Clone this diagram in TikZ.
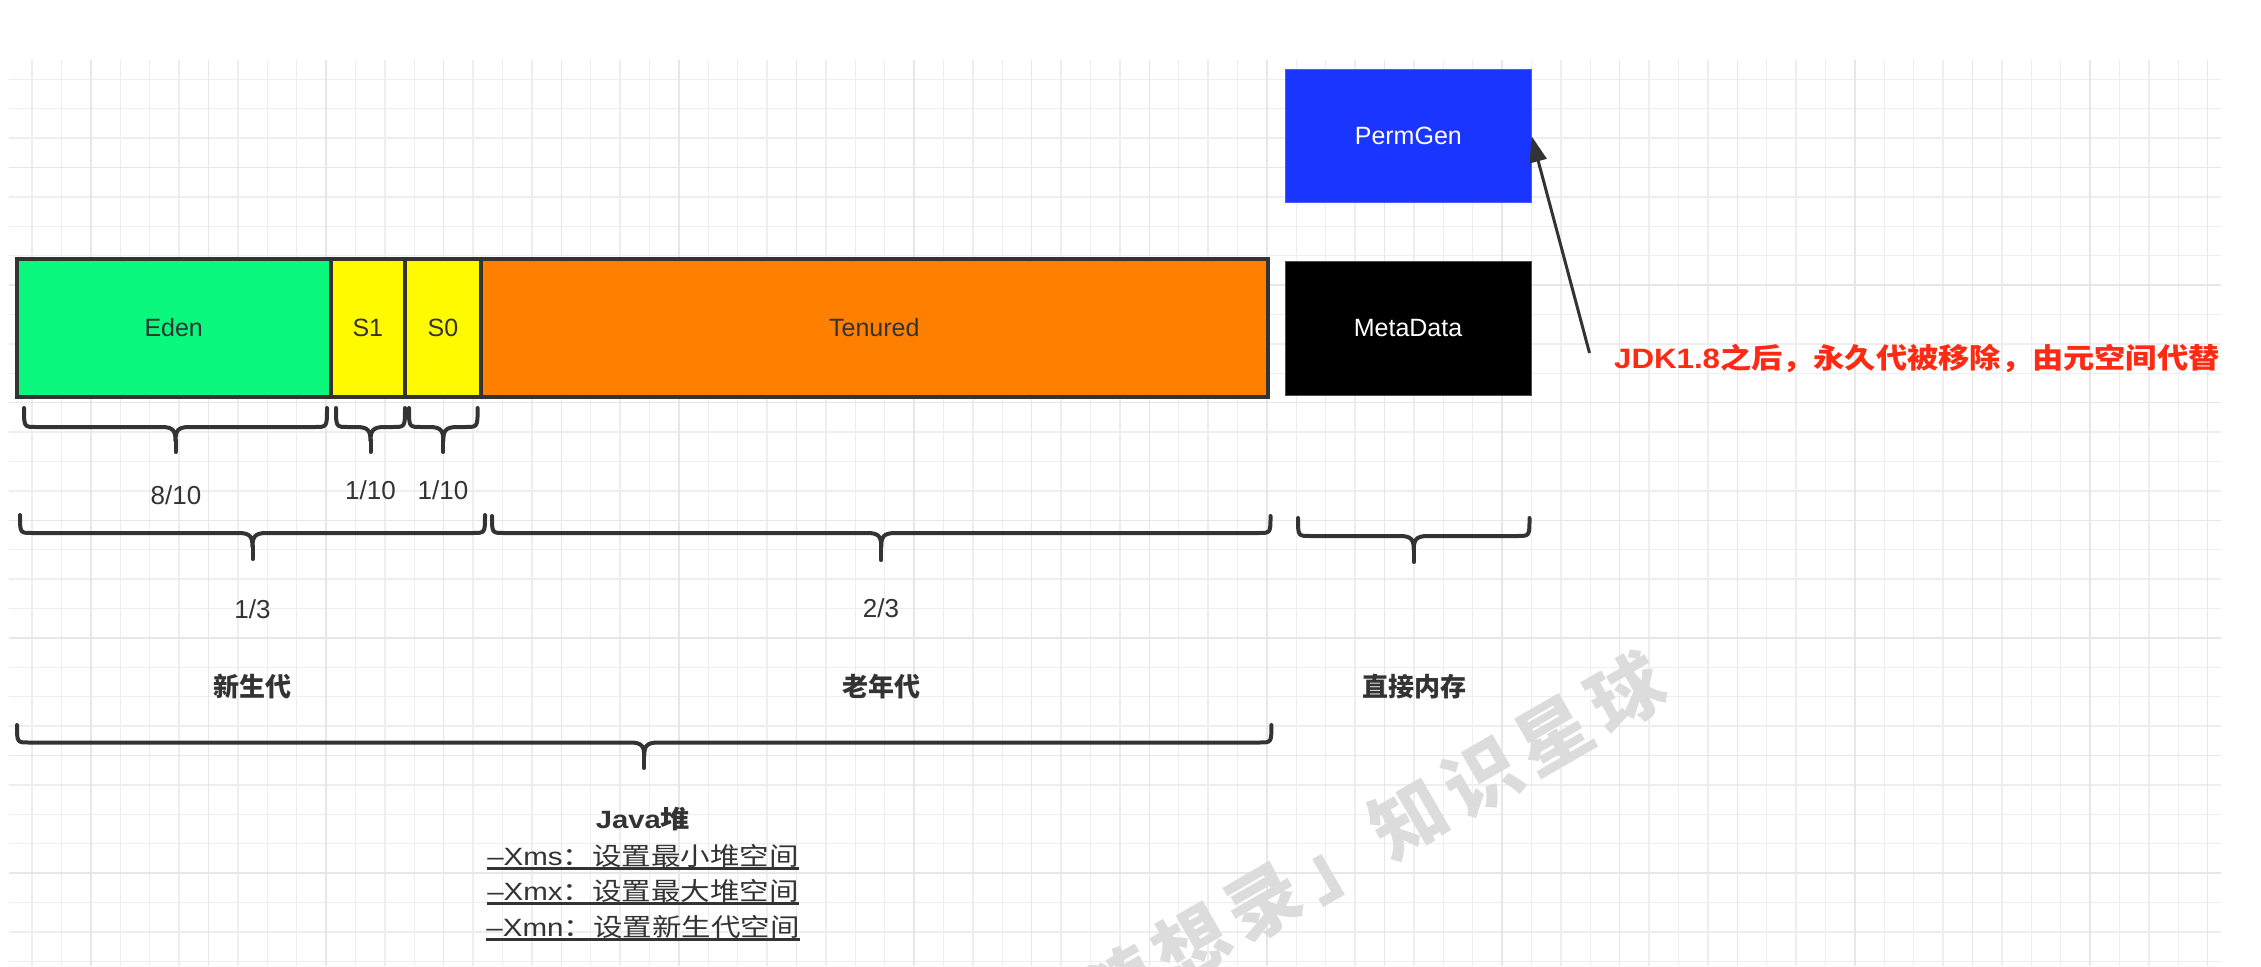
\documentclass[tikz,border=0pt]{standalone}
\usepackage{fontspec}
\setmainfont{Liberation Sans}
\newfontfamily\cjk{Noto Sans CJK SC}
\newfontfamily\wmfont[LetterSpace=13]{Noto Sans CJK SC}
\usetikzlibrary{arrows.meta}
\definecolor{ink}{HTML}{333333}
\definecolor{gridminor}{HTML}{EEEEEE}
\definecolor{gridmajor}{HTML}{E7E7E7}
\definecolor{edenc}{HTML}{0BF87F}
\definecolor{survc}{HTML}{FFFA00}
\definecolor{tenc}{HTML}{FF8000}
\definecolor{permc}{HTML}{1A35FF}
\definecolor{notered}{HTML}{FF2A14}
\definecolor{wmark}{HTML}{DCDCDC}
\newcommand{\fsz}[1]{\fontsize{#1}{#1}\selectfont}
\newcommand{\curly}[5]{%
  \pgfmathsetmacro\xm{(#1+#2)/2}%
  \draw[bracestyle] (#1,#3) .. controls (#1,#4) .. (#1+12,#4) -- (\xm-14,#4)
     .. controls (\xm-2,#4) and (\xm,#4+4) .. (\xm,#4+14)
     .. controls (\xm,#4+4) and (\xm+2,#4) .. (\xm+14,#4) -- (#2-12,#4)
     .. controls (#2,#4) .. (#2,#3);
  \draw[bracestyle] (\xm,#4+13) -- (\xm,#5);
}
\begin{document}
\begin{tikzpicture}[x=1pt,y=-1pt,
  heapbox/.style={draw=ink, line width=4pt, inner sep=0pt, font=\fsz{25}, text=ink},
  bracestyle/.style={draw=ink, line width=4pt, line cap=round, line join=round},
  lbl/.style={font=\fsz{26}, text=ink, inner sep=0pt},
  gen/.style={font=\cjk\bfseries\fsz{26}, text=ink, inner sep=0pt},
  opt/.style={font=\fsz{25}, text=ink, inner sep=0pt, anchor=base},
  uline/.style={draw=ink, line width=2.5pt}
]
\useasboundingbox (0,0) rectangle (2261,966);
\fill[white] (0,0) rectangle (2261,966);
% grid
\foreach \k in {1,...,75} \draw[gridminor, line width=1.5pt] ({2.7+29.4*\k},60) -- ({2.7+29.4*\k},966);
\foreach \k in {2,...,32} \draw[gridminor, line width=1.5pt] (9,{20.5+29.4*\k}) -- (2221,{20.5+29.4*\k});
\foreach \k in {3,7,...,75} \draw[gridmajor, line width=1.5pt] ({2.7+29.4*\k},60) -- ({2.7+29.4*\k},966);
\foreach \k in {5,9,...,29} \draw[gridmajor, line width=1.5pt] (9,{20.5+29.4*\k}) -- (2221,{20.5+29.4*\k});
% watermark
\node[font=\wmfont\bfseries\fsz{74}, text=wmark, rotate=30, anchor=center, inner sep=0pt] (wm) at (1264,902) {「代码随想录」知识星球};
% heap boxes
\node[heapbox, fill=edenc, minimum width=313.8pt, minimum height=137.7pt] (eden) at (173.7,327.9) {Eden};
\node[heapbox, fill=survc, minimum width=74.4pt, minimum height=137.7pt] (s1) at (367.8,327.9) {S1};
\node[heapbox, fill=survc, minimum width=76pt, minimum height=137.7pt] (s0) at (443,327.9) {S0};
\node[heapbox, fill=tenc, minimum width=786.6pt, minimum height=137.7pt] (ten) at (874.3,327.9) {Tenured};
\node[draw=permc!80!white, line width=1pt, fill=permc, minimum width=245.5pt, minimum height=133.4pt, inner sep=0pt, font=\fsz{25}, text=white] (perm) at (1408.3,136) {PermGen};
\node[draw=black!70, line width=1pt, fill=black, minimum width=246pt, minimum height=134pt, inner sep=0pt, font=\fsz{25}, text=white] (meta) at (1408,328) {MetaData};
% note and arrow
\node[font=\bfseries\fsz{28}, text=notered, anchor=west, inner sep=0pt] (note) at (1614,358) {\scalebox{1.115}[1]{JDK1.8{\cjk 之后，永久代被移除，由元空间代替}}};
\coordinate (tail) at (1589.5,353);
\draw[ink, line width=3pt, -{Triangle[length=26pt,width=17pt]}] (tail) -- (perm.east);
% braces row 1
\curly{24}{327}{408}{427}{452}
\curly{336}{405}{408}{427}{452}
\curly{409}{477.6}{408}{427}{452}
\node[lbl] (r810) at (176,495) {8/10};
\node[lbl] (r110a) at (370.5,490) {1/10};
\node[lbl] (r110b) at (443,490) {1/10};
% braces row 2
\curly{20}{485}{515}{533}{559}
\curly{492}{1270.5}{516}{533}{560}
\curly{1298}{1529.5}{518}{536}{562}
\node[lbl] (r13) at (252.5,609) {1/3};
\node[lbl] (r23) at (881,608) {2/3};
\node[gen] (young) at (252.5,687) {新生代};
\node[gen] (old) at (881,687) {老年代};
\node[gen] (direct) at (1414,687) {直接内存};
% big brace
\curly{17}{1271.4}{725}{742.5}{768}
\node[opt, font=\bfseries\fsz{25}] (heap) at (643,828) {\scalebox{1.17}[1]{Java{\cjk 堆}}};
\node[opt] (xms) at (643,865) {\scalebox{1.18}[1]{–Xms{\cjk ：设置最小堆空间}}};
\node[opt] (xmx) at (643,900) {\scalebox{1.18}[1]{–Xmx{\cjk ：设置最大堆空间}}};
\node[opt] (xmn) at (643,936) {\scalebox{1.18}[1]{–Xmn{\cjk ：设置新生代空间}}};
\draw[uline] ([yshift=-3.5pt]xms.base west) -- ([yshift=-3.5pt]xms.base east);
\draw[uline] ([yshift=-3.5pt]xmx.base west) -- ([yshift=-3.5pt]xmx.base east);
\draw[uline] ([yshift=-3.5pt]xmn.base west) -- ([yshift=-3.5pt]xmn.base east);
\end{tikzpicture}
\end{document}
